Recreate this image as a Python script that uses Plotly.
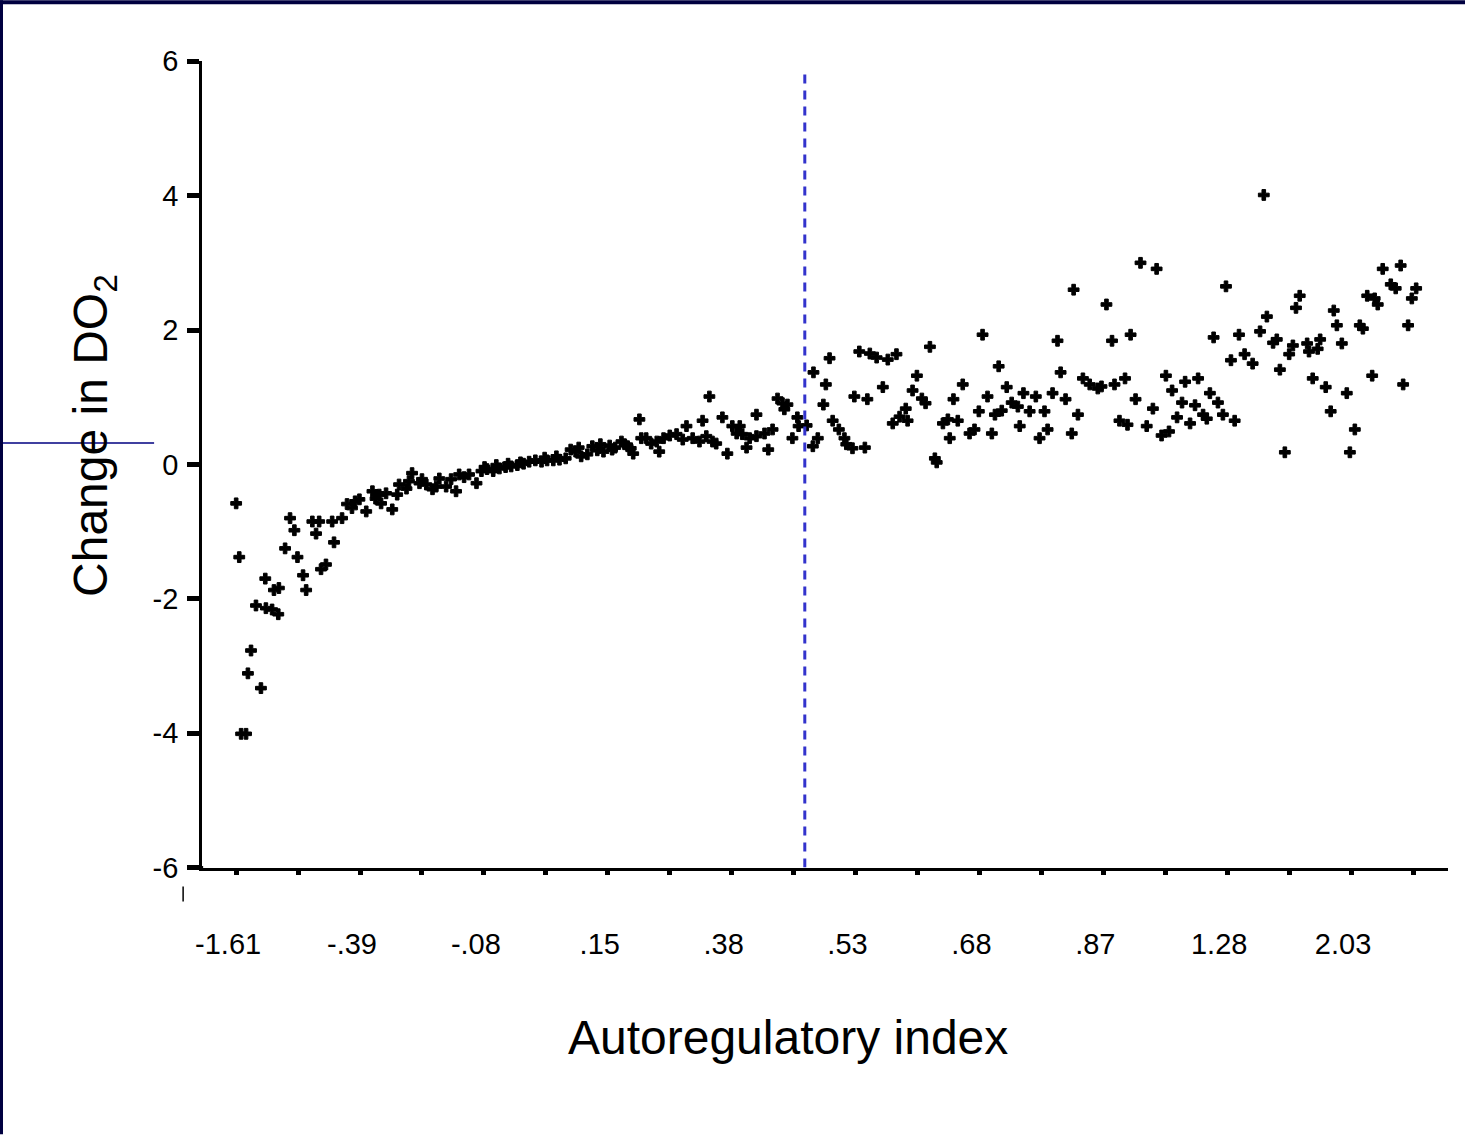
import plotly.graph_objects as go

# ---- data (x = position along the ordinal autoregulatory-index axis, y = change in DO2) ----
position = [
    0.00, 0.05, 0.08, 0.16, 0.19, 0.24, 0.32, 0.40, 0.47, 0.48, 0.58, 0.61, 0.68, 0.69, 0.79, 0.87,
    0.94, 0.99, 1.08, 1.13, 1.23, 1.29, 1.34, 1.37, 1.45, 1.55, 1.58, 1.71, 1.79, 1.87, 1.92, 1.99,
    2.10, 2.20, 2.25, 2.31, 2.34, 2.42, 2.52, 2.60, 2.63, 2.75, 2.79, 2.84, 2.96, 3.00, 3.07, 3.17,
    3.23, 3.28, 3.39, 3.47, 3.55, 3.60, 3.68, 3.76, 3.88,
    3.96, 4.01, 4.05, 4.15, 4.20, 4.25, 4.35, 4.39, 4.44, 4.54, 4.59, 4.64, 4.73, 4.83, 4.93, 4.98,
    5.02, 5.12, 5.17, 5.22, 5.32, 5.40, 5.48, 5.53, 5.57, 5.67, 5.75, 5.83, 5.88, 5.93, 6.03, 6.07,
    6.12, 6.22, 6.27, 6.32, 6.37, 6.41,
    6.51, 6.54, 6.62, 6.70, 6.79, 6.83, 6.90, 7.00, 7.11, 7.21, 7.27, 7.37, 7.48, 7.53, 7.59, 7.64,
    7.69, 7.75, 7.85, 7.93, 8.01, 8.08, 8.13, 8.17, 8.24, 8.29, 8.40, 8.40, 8.53, 8.59, 8.66, 8.74,
    8.82, 8.90, 8.85, 8.98, 9.06, 9.08, 9.21, 9.31, 9.32, 9.39, 9.48, 9.52,
    9.58, 9.63, 9.73, 9.82, 9.85, 9.95, 9.98, 10.06, 10.15, 10.19, 10.23, 10.34, 10.44, 10.52, 10.60,
    10.66, 10.71, 10.81, 10.84, 10.92, 10.99, 11.07, 11.13, 11.20, 11.28, 11.31, 11.41, 11.49, 11.52,
    11.58, 11.65, 11.73, 11.84, 11.92, 11.99, 12.05, 12.13, 12.20, 12.25, 12.31, 12.36, 12.44, 12.52,
    12.62, 12.65, 12.71, 12.81, 12.91, 12.97, 13.05, 13.10, 13.18, 13.26, 13.31, 13.39, 13.49, 13.52,
    13.59, 13.67, 13.78, 13.91, 13.97, 14.05, 14.14, 14.18, 14.26, 14.35, 14.39, 14.44,
    14.52, 14.60, 14.70, 14.80, 14.86, 14.94, 15.01, 15.06, 15.11, 15.19, 15.27, 15.32, 15.40, 15.48,
    15.53, 15.61, 15.67, 15.72, 15.78, 15.85, 15.93, 15.98, 16.06, 16.12, 16.19, 16.28, 16.41, 16.53,
    16.59, 16.64, 16.74, 16.80, 16.85, 16.93, 17.00, 17.06, 17.11, 17.17, 17.29, 17.32, 17.38, 17.46,
    17.50, 17.59, 17.67, 17.72, 17.77, 17.85, 17.93, 17.98, 18.06, 18.14, 18.19, 18.26, 18.34, 18.38,
    18.43, 18.51, 18.64, 18.72, 18.80, 18.84, 18.92, 18.98, 19.05,
]
change_do2 = [
    -0.58, -1.38, -4.01, -4.01, -3.11, -2.77, -2.10, -3.33, -1.70, -2.14, -2.16, -1.87, -2.23, -1.84, -1.25, -0.80,
    -0.98, -1.38, -1.65, -1.87, -0.85, -1.03, -0.85, -1.56, -1.49, -0.85, -1.16, -0.80, -0.59, -0.65, -0.55, -0.52,
    -0.70, -0.40, -0.51, -0.45, -0.58, -0.43, -0.67, -0.45, -0.30, -0.36, -0.25, -0.13, -0.28, -0.22, -0.30, -0.37,
    -0.33, -0.21, -0.33, -0.22, -0.40, -0.15, -0.19, -0.15, -0.28,
    -0.10, -0.04, -0.07, -0.10, -0.01, -0.06, -0.04, 0.01, -0.03, -0.01, 0.03, 0.01, 0.04, 0.06, 0.04, 0.10,
    0.06, 0.06, 0.12, 0.07, 0.09, 0.22, 0.19, 0.25, 0.12, 0.15, 0.27, 0.21, 0.30, 0.19, 0.28, 0.22,
    0.25, 0.34, 0.30, 0.27, 0.24, 0.16,
    0.67, 0.39, 0.39, 0.31, 0.34, 0.19, 0.39, 0.43, 0.45, 0.37, 0.57, 0.39, 0.34, 0.65, 0.42, 1.01,
    0.34, 0.31, 0.70, 0.16, 0.57, 0.46, 0.57, 0.45, 0.25, 0.39, 0.74, 0.42, 0.46, 0.22, 0.52, 0.98,
    0.91, 0.89, 0.82, 0.39, 0.70, 0.57, 0.58, 0.27, 1.37, 0.39, 0.89, 1.19,
    1.58, 0.65, 0.52, 0.39, 0.30, 0.24, 1.01, 1.68, 0.25, 0.97, 1.65, 1.59, 1.15, 1.56, 0.61,
    1.64, 0.71, 0.83, 0.65, 1.10, 1.32, 0.98, 0.91, 1.75, 0.09, 0.03, 0.61, 0.67, 0.39,
    0.97, 0.65, 1.19, 0.46, 0.52, 0.79, 1.93, 1.01, 0.46, 0.74, 1.46, 0.80, 1.15, 0.92,
    0.86, 0.57, 1.06, 0.79, 1.01, 0.39, 0.79, 0.52, 1.06, 1.84, 1.37, 0.97, 0.46, 2.60,
    0.74, 1.28, 1.19, 1.13, 1.16, 2.38, 1.84, 1.19, 0.65, 1.28, 0.59, 1.93,
    0.97, 3.00, 0.57, 0.83, 2.91, 0.43, 1.32, 0.49, 1.10, 0.70, 0.92, 1.23, 0.61, 0.88,
    1.28, 0.74, 0.68, 1.06, 1.89, 0.92, 0.74, 2.65, 1.55, 0.65, 1.93, 1.64, 1.50, 1.98,
    4.01, 2.20, 1.81, 1.86, 1.41, 0.18, 1.64, 1.77, 2.33, 2.51, 1.80, 1.68, 1.28, 1.72,
    1.86, 1.15, 0.79, 2.29, 2.07, 1.80, 1.06, 0.18, 0.52, 2.07, 2.02, 2.51, 1.32, 2.47,
    2.38, 2.91, 2.68, 2.62, 2.96, 1.19, 2.07, 2.47, 2.62,
]

tick_positions = list(range(20))
tick_labels = ["-1.61", "-.39", "-.08", ".15", ".38", ".53", ".68", ".87", "1.28", "2.03"]
y_ticks = [-6, -4, -2, 0, 2, 4, 6]
y_tick_labels = ["-6", "-4", "-2", "0", "2", "4", "6"]
threshold_position = 9.18

# ---- layout geometry: page pixels -> paper fractions of the rendered plot box ----
W, H = 1465, 1135
BOX_L, BOX_T, BOX_W, BOX_H = 8.0, 15.7, 1457.0, 1104.0
def px(x):
    return (x - BOX_L) / BOX_W
def py(y):
    return 1 - (y - BOX_T) / BOX_H

NB = "\u00a0"
ticktext = []
for i in tick_positions:
    if i % 2 == 0:
        ticktext.append(tick_labels[i // 2] + NB + NB)
    else:
        ticktext.append(" ")

fig = go.Figure()
fig.add_trace(go.Scatter(
    x=position, y=change_do2, mode="markers",
    marker=dict(symbol="cross", size=9, color="black", line=dict(width=1, color="black")),
    cliponaxis=False, showlegend=False, hoverinfo="skip",
))

FONT = "Liberation Sans, Arial, sans-serif"
NAVY = "#000040"

fig.update_layout(
    width=W, height=H,
    margin=dict(l=0, r=0, t=0, b=0),
    paper_bgcolor="white", plot_bgcolor="white",
    font=dict(family=FONT, color="black"),
    xaxis=dict(
        domain=[px(203), px(1448)],
        range=[(203 - 237) / 61.9, (1448 - 237) / 61.9],
        showline=True, linecolor="black", linewidth=3,
        showgrid=False, zeroline=False,
        ticks="outside", ticklen=4, tickwidth=5, tickcolor="black",
        tickvals=tick_positions, ticktext=ticktext,
        tickfont=dict(size=29, family=FONT, color="black"),
        ticklabelstandoff=45,
    ),
    yaxis=dict(
        domain=[py(868), py(61)],
        range=[-6, 6],
        showline=True, linecolor="black", linewidth=3,
        showgrid=False, zeroline=False,
        ticks="outside", ticklen=12, tickwidth=5, tickcolor="black",
        tickvals=y_ticks, ticktext=y_tick_labels,
        tickfont=dict(size=29, family=FONT, color="black"),
        ticklabelstandoff=3,
    ),
    shapes=[
        # threshold line
        dict(type="line", xref="x", yref="y", x0=threshold_position, x1=threshold_position,
             y0=-6, y1=5.82, line=dict(color="#3333cc", width=3, dash="9px,7px")),
        # x-axis line extension left of y-axis
        dict(type="line", xref="paper", yref="paper", x0=px(190), x1=px(204), y0=py(868), y1=py(868),
             line=dict(color="black", width=3)),
        # stray small tick
        dict(type="line", xref="paper", yref="paper", x0=px(184), x1=px(184), y0=py(887), y1=py(902),
             line=dict(color="black", width=1.5)),
        # slide decorations
        dict(type="line", xref="paper", yref="paper", x0=px(0), x1=px(155), y0=py(443), y1=py(443),
             line=dict(color="#000080", width=1.5)),
        dict(type="rect", xref="paper", yref="paper", x0=px(0), x1=px(4), y0=py(1135), y1=py(0),
             fillcolor=NAVY, line=dict(width=0)),
        dict(type="rect", xref="paper", yref="paper", x0=px(0), x1=px(1465), y0=py(4), y1=py(0),
             fillcolor=NAVY, line=dict(width=0)),
    ],
    annotations=[
        dict(text="Change in DO<sub>2</sub>", xref="paper", yref="paper",
             x=px(95), y=py(436), xanchor="center", yanchor="middle", textangle=-90,
             showarrow=False, font=dict(size=48, family=FONT, color="black")),
        dict(text="Autoregulatory index", xref="paper", yref="paper",
             x=px(788), y=py(1038), xanchor="center", yanchor="middle",
             showarrow=False, font=dict(size=48, family=FONT, color="black")),
    ],
)

fig.write_html("out.html")
